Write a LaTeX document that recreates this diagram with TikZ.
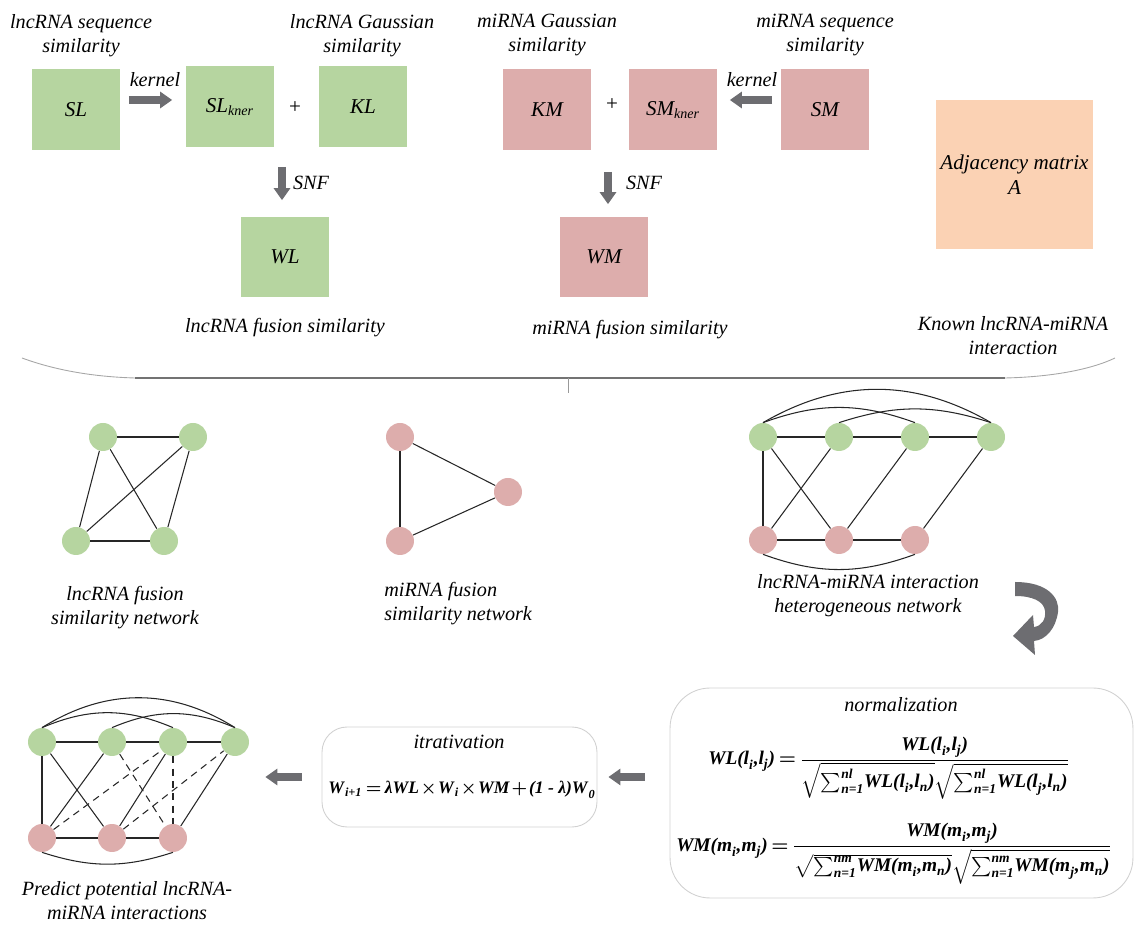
\documentclass[tikz,border=0pt]{standalone}
\usepackage{amsmath}
\usepackage{fontspec}
\setmainfont{Liberation Serif}
\usetikzlibrary{arrows.meta, positioning, calc}

\definecolor{lncgreen}{HTML}{B6D5A0}
\definecolor{mirpink}{HTML}{DDADAC}
\definecolor{adjpeach}{HTML}{FBD2B4}
\definecolor{arrowgray}{HTML}{6D6D71}

\newcommand{\bi}[1]{\textbf{\textit{#1}}}
\newcommand{\wl}[2]{\bi{WL(l}_{\bi{#1}}\bi{,l}_{\bi{#2}}\bi{)}}
\newcommand{\wm}[2]{\bi{WM(m}_{\bi{#1}}\bi{,m}_{\bi{#2}}\bi{)}}
\newcommand{\tightmath}{\medmuskip=2mu\relax\thickmuskip=3mu\relax}

\tikzset{
    lbl/.style={font=\fontsize{11.5}{13.6}\selectfont\itshape, align=center, inner sep=0pt},
    matbox/.style={minimum width=1.78cm, minimum height=1.62cm, inner sep=0pt,
        font=\fontsize{12}{14}\selectfont\itshape},
    lncbox/.style={matbox, fill=lncgreen},
    mirbox/.style={matbox, fill=mirpink},
    lncdot/.style={circle, fill=lncgreen, minimum size=0.56cm, inner sep=0pt},
    mirdot/.style={circle, fill=mirpink, minimum size=0.56cm, inner sep=0pt},
    blockarrow/.style={arrowgray, line width=0.15cm, -{Triangle[length=0.24cm, width=0.32cm]}},
    link/.style={black!85, line width=0.6pt},
    predlink/.style={link, dash pattern=on 4pt off 3pt},
    panel/.style={draw=black!18, line width=0.5pt, inner sep=0pt},
    formula/.style={inner sep=0pt, font=\fontsize{11}{13}\selectfont\boldmath}
}

\begin{document}
\begin{tikzpicture}[x=0.02cm, y=-0.02cm]
    \useasboundingbox (0,0) rectangle (1137,928);

    % lncRNA similarity
    \node[lbl] (seqLt) at (81,36) {lncRNA sequence\\similarity};
    \node[lbl] (gauLt) at (362,36) {lncRNA Gaussian\\similarity};
    \node[lncbox] (SL) at (76,110) {SL};
    \node[lncbox] (SLk) at (230,107) {$\textit{SL}_{\textit{kner}}$};
    \node[lbl, font=\fontsize{12}{14}\selectfont] (plusL) at (295,108) {+};
    \node[lncbox] (KL) at (363,107) {KL};
    \node[lncbox] (WL) at (285,257) {WL};
    \draw[blockarrow, shorten <=0.16cm, shorten >=0.26cm] ([yshift=0.2cm]SL.east) -- ([yshift=0.2cm]SL.east -| SLk.west);
    \node[lbl] (kerLt) at (155,80) {kernel};
    \coordinate (snfL) at (282,167);
    \draw[blockarrow, shorten >=0.32cm] (snfL) -- (snfL |- WL.north);
    \node[lbl] (snfLt) at (311,183) {SNF};
    \node[lbl] (fusLt) at (285,328) {lncRNA fusion similarity};

    % miRNA similarity
    \node[lbl] (gauMt) at (547,35) {miRNA Gaussian\\similarity};
    \node[lbl] (seqMt) at (825,35) {miRNA sequence\\similarity};
    \node[mirbox] (KM) at (547,110) {KM};
    \node[lbl, font=\fontsize{12}{14}\selectfont] (plusM) at (612,105) {+};
    \node[mirbox] (SMk) at (673,110) {$\textit{SM}_{\textit{kner}}$};
    \node[mirbox] (SM) at (825,110) {SM};
    \node[mirbox] (WM) at (604,257) {WM};
    \draw[blockarrow, shorten <=0.16cm, shorten >=0.24cm] ([yshift=0.2cm]SM.west) -- ([yshift=0.2cm]SM.west -| SMk.east);
    \node[lbl] (kerMt) at (752,80) {kernel};
    \coordinate (snfM) at (608,172);
    \draw[blockarrow, shorten >=0.24cm] (snfM) -- (snfM |- WM.north);
    \node[lbl] (snfMt) at (644,183) {SNF};
    \node[lbl] (fusMt) at (630,330) {miRNA fusion similarity};

    % known interactions
    \node[matbox, fill=adjpeach, minimum width=3.14cm, minimum height=2.98cm, align=center] (adj) at (1014.5,174.5) {Adjacency matrix\\A};
    \node[lbl] (knownt) at (1013,336) {Known lncRNA-miRNA\\interaction};

    % brace
    \draw[black!35, line width=0.5pt] (22,358) .. controls (60,372) and (100,377) .. (135,378);
    \draw[black!35, line width=0.5pt] (1005,378) .. controls (1050,377) and (1090,370) .. (1115,358);
    \draw[black!55, line width=0.7pt] (135,378) -- (1005,378);
    \draw[black!40, line width=0.5pt] (568,378) -- (568,393);

    % lncRNA network
    \node[lncdot] (ll1) at (103,437) {};
    \node[lncdot] (ll2) at (193,437) {};
    \node[lncdot] (ll3) at (76,541) {};
    \node[lncdot] (ll4) at (164,541) {};
    \foreach \a/\b in {ll1/ll2, ll3/ll4, ll1/ll3, ll1/ll4, ll2/ll3, ll2/ll4}
        \draw[link] (\a) -- (\b);
    \node[lbl] (lnett) at (125,608) {lncRNA fusion\\similarity network};

    % miRNA network
    \node[mirdot] (mm1) at (400,437) {};
    \node[mirdot] (mm2) at (508,492) {};
    \node[mirdot] (mm3) at (400,541) {};
    \foreach \a/\b in {mm1/mm2, mm2/mm3, mm1/mm3}
        \draw[link] (\a) -- (\b);
    \node[lbl, align=left, anchor=west] (mnett) at (384,604) {miRNA fusion\\similarity network};

    % heterogeneous network
    \node[lncdot] (hl1) at (763,437) {};
    \node[lncdot] (hl2) at (839,437) {};
    \node[lncdot] (hl3) at (915,437) {};
    \node[lncdot] (hl4) at (991,437) {};
    \node[mirdot] (hm1) at (763,540) {};
    \node[mirdot] (hm2) at (839,540) {};
    \node[mirdot] (hm3) at (915,540) {};
    \foreach \a/\b in {hl1/hl2, hl2/hl3, hl3/hl4, hm1/hm2, hm2/hm3, hl1/hm1, hl1/hm2, hl2/hm1, hl3/hm2, hl4/hm3}
        \draw[link] (\a) -- (\b);
    \draw[link] (hl1.north) to[bend left=30] (hl4.north);
    \draw[link] (hl1.north) to[bend left=20] (hl3.north);
    \draw[link] (hl2.north) to[bend left=18] (hl4.north);
    \draw[link] (hm1.south) to[bend right=20] (hm3.south);
    \node[lbl] (hnett) at (868,596) {lncRNA-miRNA interaction\\heterogeneous network};

    % turn arrow
    \fill[arrowgray] (1015,582) .. controls (1048,582) and (1060,598) .. (1058,612)
        .. controls (1056,628) and (1046,640) .. (1034,641) -- (1035,655) -- (1013,636) -- (1033,615)
        -- (1034,627) .. controls (1042,626) and (1046,619) .. (1045,611)
        .. controls (1044,601) and (1032,596) .. (1015,596) -- cycle;

    % normalization
    \node[panel, rounded corners=0.8cm, minimum width=9.26cm, minimum height=4.2cm] (normbox) at (901.5,793) {};
    \node[lbl] (normt) at (901,705) {normalization};
    \node[formula] (fWL) at (889,768) {\tightmath$\displaystyle \wl{i}{j} = \frac{\wl{i}{j}}{\sqrt{\sum_{\bi{n=1}}^{\bi{nl}}\!\wl{i}{n}}\sqrt{\sum_{\bi{n=1}}^{\bi{nl}}\!\wl{j}{n}}}$};
    \node[formula] (fWM) at (894,854) {\tightmath$\displaystyle \wm{i}{j} = \frac{\wm{i}{j}}{\sqrt{\sum_{\bi{n=1}}^{\bi{nm}}\!\wm{i}{n}}\sqrt{\sum_{\bi{n=1}}^{\bi{nm}}\!\wm{j}{n}}}$};

    % iteration
    \node[panel, rounded corners=0.5cm, minimum width=5.5cm, minimum height=2cm] (iterbox) at (459.5,777) {};
    \node[lbl] (itert) at (459,742) {itrativation};
    \node[formula, font=\fontsize{10}{12}\selectfont\boldmath] (fW) at (462,790) {\tightmath\medmuskip=1.5mu\relax$\bi{W}_{\bi{i+1}} = \bi{λWL}\times\bi{W}_{\bi{i}}\times\bi{WM} + \bi{(1 - λ)W}_{\bi{0}}$};
    \draw[blockarrow, shorten <=0.5cm, shorten >=0.22cm] (iterbox.east -| normbox.west) -- (iterbox.east);

    % predicted network
    \node[lncdot] (pl1) at (42,742) {};
    \node[lncdot] (pl2) at (112,742) {};
    \node[lncdot] (pl3) at (173,742) {};
    \node[lncdot] (pl4) at (235,742) {};
    \node[mirdot] (pm1) at (42,838) {};
    \node[mirdot] (pm2) at (112,838) {};
    \node[mirdot] (pm3) at (173,838) {};
    \foreach \a/\b in {pl1/pl2, pl2/pl3, pl3/pl4, pm1/pm2, pm2/pm3, pl1/pm1, pl1/pm2, pl2/pm1, pl3/pm2, pl4/pm3}
        \draw[link] (\a) -- (\b);
    \foreach \a/\b in {pm1/pl3, pm2/pl4, pl2/pm3, pl3/pm3}
        \draw[predlink] (\a) -- (\b);
    \draw[link] (pl1.north) to[bend left=32] (pl4.north);
    \draw[link] (pl1.north) to[bend left=23] (pl3.north);
    \draw[link] (pl2.north) to[bend left=23] (pl4.north);
    \draw[link] (pm1.south) to[bend right=18] (pm3.south);
    \draw[blockarrow, shorten <=0.4cm, shorten >=0.32cm] (iterbox.west) -- (iterbox.west -| pl4.east);
    \node[lbl] (pnett) at (127,901) {Predict potential lncRNA-\\miRNA interactions};
\end{tikzpicture}
\end{document}
